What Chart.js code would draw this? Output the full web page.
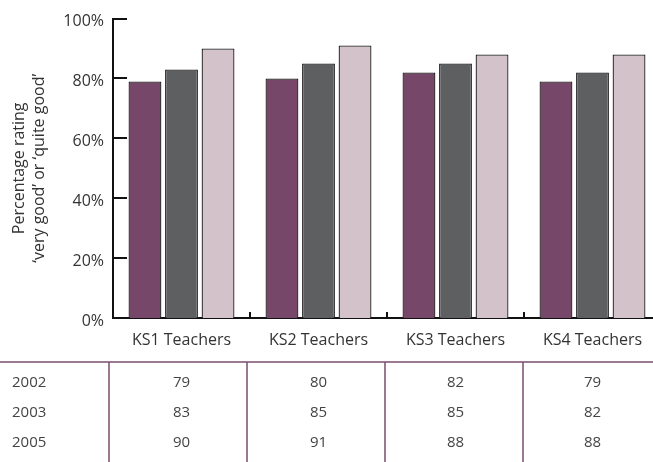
<!DOCTYPE html>
<html>
<head>
<meta charset="utf-8">
<script src="https://cdn.jsdelivr.net/npm/chart.js@4"></script>
<style>
  html, body { margin: 0; padding: 0; background: #fff; overflow: hidden; }
  #wrap { width: 653px; height: 462px; overflow: hidden; }
</style>
</head>
<body>
<div id="wrap"><canvas id="barChart" width="665" height="462"></canvas></div>
<script>
// Chart data
const categories = ['KS1 Teachers', 'KS2 Teachers', 'KS3 Teachers', 'KS4 Teachers'];
const years = ['2002', '2003', '2005'];
const values2002 = [79, 80, 82, 79];
const values2003 = [83, 85, 85, 82];
const values2005 = [90, 91, 88, 88];
const yTicks = [0, 20, 40, 60, 80, 100];

const seriesColors = ['#77476a', '#5e5f61', '#d4c2ca'];
const tableColor = '#7b4d70';
const textColor = '#333333';

Chart.defaults.font.family = "'Open Sans', sans-serif";
Chart.defaults.color = textColor;

// Inward tick marks on the axes, as in the print original
const axisTicks = {
    id: 'axisTicks',
    afterDraw(chart) {
        const {ctx, chartArea, scales: {x, y}} = chart;
        ctx.save();
        ctx.strokeStyle = '#111';
        ctx.lineWidth = 2;
        ctx.beginPath();
        yTicks.forEach(v => {
            const py = Math.round(y.getPixelForValue(v));
            ctx.moveTo(chartArea.left, py);
            ctx.lineTo(chartArea.left + 14, py);
        });
        const half = (x.getPixelForValue(1) - x.getPixelForValue(0)) / 2;
        categories.forEach((c, i) => {
            const px = Math.round(x.getPixelForValue(i) + half);
            ctx.moveTo(px, chartArea.bottom);
            ctx.lineTo(px, chartArea.bottom - 6);
        });
        ctx.stroke();
        ctx.restore();
    }
};

// Data table under the chart, columns follow the x scale
const dataTable = {
    id: 'dataTable',
    afterDraw(chart) {
        const {ctx, scales: {x}} = chart;
        const rows = [values2002, values2003, values2005];
        const top = 362;
        const rowY = [383, 413, 443];
        const half = (x.getPixelForValue(1) - x.getPixelForValue(0)) / 2;
        ctx.save();
        ctx.strokeStyle = tableColor;
        ctx.lineWidth = 1.5;
        ctx.beginPath();
        ctx.moveTo(0, top);
        ctx.lineTo(chart.width, top);
        categories.forEach((c, i) => {
            const px = Math.round(x.getPixelForValue(i) - half) - 4 + i;
            ctx.moveTo(px, top);
            ctx.lineTo(px, chart.height);
        });
        ctx.stroke();

        ctx.fillStyle = '#444';
        ctx.font = "15px 'Open Sans', sans-serif";
        ctx.textBaseline = 'middle';
        rows.forEach((row, r) => {
            ctx.textAlign = 'left';
            ctx.fillText(years[r], 12, rowY[r]);
            ctx.textAlign = 'center';
            row.forEach((v, i) => {
                ctx.fillText(String(v), x.getPixelForValue(i), rowY[r]);
            });
        });
        ctx.restore();
    }
};

function renderChart() {
    const ctx = document.getElementById('barChart').getContext('2d');
    new Chart(ctx, {
        type: 'bar',
        data: {
            labels: categories,
            datasets: [values2002, values2003, values2005].map((vals, i) => ({
                label: years[i],
                data: vals,
                backgroundColor: seriesColors[i],
                borderColor: '#222',
                borderWidth: 1.3,
                categoryPercentage: 0.8,
                barPercentage: 0.9
            }))
        },
        options: {
            responsive: false,
            animation: false,
            layout: { padding: { top: 18, right: 4, left: 0, bottom: 0 } },
            plugins: {
                legend: { display: false },
                tooltip: { enabled: false }
            },
            scales: {
                x: {
                    grid: { display: false, drawTicks: false },
                    border: { color: '#111', width: 2 },
                    ticks: { padding: 13, font: { size: 16 }, color: textColor },
                    afterFit(axis) { axis.height = 144; }
                },
                y: {
                    min: 0,
                    max: 100,
                    grid: { display: false, drawTicks: false },
                    border: { color: '#111', width: 2 },
                    ticks: {
                        stepSize: 20,
                        padding: 9,
                        labelOffset: 3,
                        font: { size: 16 },
                        color: textColor,
                        callback: v => v + '%'
                    },
                    title: {
                        display: true,
                        text: ['Percentage rating', '\u2018very good\u2019 or \u2018quite good\u2019'],
                        font: { size: 16, lineHeight: 1.25 },
                        color: textColor,
                        padding: { top: 9, bottom: 0 }
                    },
                    afterFit(axis) { axis.width = 113; }
                }
            }
        },
        plugins: [axisTicks, dataTable]
    });
}

document.addEventListener('DOMContentLoaded', renderChart);
</script>
</body>
</html>
